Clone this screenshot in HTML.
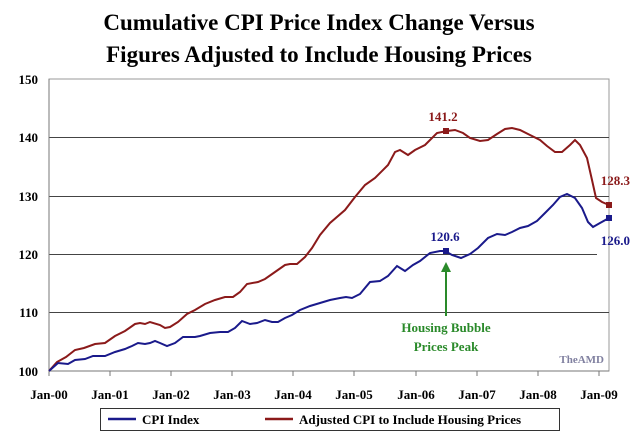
<!DOCTYPE html>
<html><head><meta charset="utf-8"><style>
body{margin:0;background:#fff;}
svg{display:block;font-family:"Liberation Serif",serif;font-weight:bold;}
</style></head><body>
<svg width="638" height="441" viewBox="0 0 638 441">
<text x="319" y="30" text-anchor="middle" font-size="23">Cumulative CPI Price Index Change Versus</text>
<text x="319" y="62" text-anchor="middle" font-size="23">Figures Adjusted to Include Housing Prices</text>
<rect x="49" y="79" width="560" height="292" fill="none" stroke="#999" stroke-width="1"/>
<g stroke="#444" stroke-width="1">
<line x1="49" y1="137.5" x2="609" y2="137.5"/>
<line x1="49" y1="196.5" x2="609" y2="196.5"/>
<line x1="49" y1="254.5" x2="597" y2="254.5"/>
<line x1="49" y1="312.5" x2="609" y2="312.5"/>
</g>
<g stroke="#777" stroke-width="1">
<line x1="49" y1="371" x2="609" y2="371"/>
<line x1="49" y1="79" x2="49" y2="371"/>
<line x1="49" y1="371" x2="49" y2="376"/><line x1="110" y1="371" x2="110" y2="376"/><line x1="171" y1="371" x2="171" y2="376"/><line x1="232" y1="371" x2="232" y2="376"/><line x1="293" y1="371" x2="293" y2="376"/><line x1="354" y1="371" x2="354" y2="376"/><line x1="416" y1="371" x2="416" y2="376"/><line x1="477" y1="371" x2="477" y2="376"/><line x1="538" y1="371" x2="538" y2="376"/><line x1="599" y1="371" x2="599" y2="376"/>
</g>
<g font-size="13" text-anchor="end">
<text x="38" y="84">150</text><text x="38" y="142">140</text><text x="38" y="201">130</text><text x="38" y="259">120</text><text x="38" y="317">110</text><text x="38" y="376">100</text>
</g>
<g font-size="13" text-anchor="middle">
<text x="49" y="399">Jan-00</text><text x="110" y="399">Jan-01</text><text x="171" y="399">Jan-02</text><text x="232" y="399">Jan-03</text><text x="293" y="399">Jan-04</text><text x="354" y="399">Jan-05</text><text x="416" y="399">Jan-06</text><text x="477" y="399">Jan-07</text><text x="538" y="399">Jan-08</text><text x="599" y="399">Jan-09</text>
</g>
<polyline fill="none" stroke="#8b1a1a" stroke-width="2" points="49,371 57,362 66,357 75,350 84,348 95,344 105,343 115,336 125,331 135,324 140,323 145,324 150,322 160,325 165,328 170,327 178,322 187,314 195,310 205,304 215,300 225,297 233,297 240,292 247,284 258,282 265,279 275,272 285,265 290,264 297,264 305,257 312,248 320,235 330,223 345,210 355,197 365,185 375,178 388,165 395,152 400,150 408,155 415,150 425,145 437,133 447,131 455,130 463,133 470,138 480,141 488,140 497,134 505,129 512,128 520,130 530,135 540,140 547,146 555,152 562,152 570,145 575,140 580,145 587,158 592,180 596,198 602,202 609,205"/>
<polyline fill="none" stroke="#1a1a8b" stroke-width="2" points="49,371 58,363 68,364 75,360 85,359 93,356 105,356 115,352 125,349 132,346 138,343 145,344 150,343 155,341 160,343 167,346 175,343 183,337 195,337 200,336 210,333 220,332 228,332 235,328 242,321 250,324 257,323 265,320 272,322 278,322 285,318 292,315 300,310 310,306 320,303 330,300 340,298 346,297 352,298 360,294 370,282 380,281 388,276 397,266 405,271 413,265 420,261 430,253 440,251 445,251 452,255 461,258 470,254 478,248 488,238 497,234 505,235 512,232 520,228 528,226 537,221 545,213 553,205 560,197 567,194 575,198 582,208 588,222 593,227 600,223 609,218"/>
<rect x="443" y="128" width="6" height="6" fill="#8b1a1a"/>
<rect x="443" y="248" width="6" height="6" fill="#1a1a8b"/>
<rect x="606" y="202" width="6" height="6" fill="#8b1a1a"/>
<rect x="606" y="215" width="6" height="6" fill="#1a1a8b"/>
<g font-size="13">
<text x="443" y="121" text-anchor="middle" fill="#8b1a1a">141.2</text>
<text x="445" y="241" text-anchor="middle" fill="#1a1a8b">120.6</text>
<text x="630" y="185" text-anchor="end" fill="#8b1a1a">128.3</text>
<text x="630" y="245" text-anchor="end" fill="#1a1a8b">126.0</text>
<text x="446" y="332" text-anchor="middle" fill="#2a8a2a">Housing Bubble</text>
<text x="446" y="351" text-anchor="middle" fill="#2a8a2a">Prices Peak</text>
</g>
<line x1="446" y1="316" x2="446" y2="270" stroke="#2a8a2a" stroke-width="2"/>
<polygon points="446,262 441,272 451,272" fill="#2a8a2a"/>
<text x="604" y="363" text-anchor="end" font-size="11" fill="#8080a0">TheAMD</text>
<rect x="100.5" y="408.5" width="459" height="22" fill="#fff" stroke="#333"/>
<line x1="108" y1="419" x2="136" y2="419" stroke="#1a1a8b" stroke-width="2.5"/>
<text x="142" y="424" font-size="13">CPI Index</text>
<line x1="265" y1="419" x2="293" y2="419" stroke="#8b1a1a" stroke-width="2.5"/>
<text x="299" y="424" font-size="13">Adjusted CPI to Include Housing Prices</text>
</svg>
</body></html>
